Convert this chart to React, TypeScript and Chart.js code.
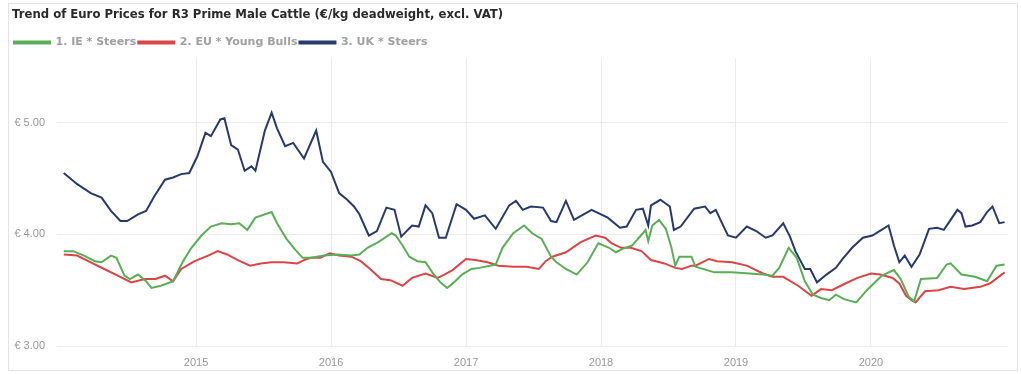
import React, { useEffect, useRef } from "react";
import { Chart, registerables } from "chart.js";

Chart.register(...registerables);

const TITLE = "Trend of Euro Prices for R3 Prime Male Cattle (€/kg deadweight, excl. VAT)";
const SERIES_LABELS = ["1. IE * Steers", "2. EU * Young Bulls", "3. UK * Steers"];
const SERIES_COLORS = ["#5aae57", "#dc4545", "#28396b"];
const X_TICKS = [2015, 2016, 2017, 2018, 2019, 2020];
const Y_TICKS = [3, 4, 5];

const ieDates = [2014.02, 2014.09, 2014.17, 2014.25, 2014.3, 2014.37, 2014.41, 2014.47, 2014.51, 2014.57, 2014.63, 2014.67, 2014.74, 2014.83, 2014.9, 2014.96, 2015.04, 2015.11, 2015.19, 2015.26, 2015.32, 2015.38, 2015.44, 2015.56, 2015.6, 2015.67, 2015.73, 2015.79, 2015.85, 2015.95, 2016.05, 2016.15, 2016.21, 2016.27, 2016.35, 2016.45, 2016.48, 2016.53, 2016.58, 2016.64, 2016.7, 2016.75, 2016.81, 2016.86, 2016.91, 2016.97, 2017.04, 2017.1, 2017.22, 2017.27, 2017.35, 2017.43, 2017.49, 2017.56, 2017.63, 2017.67, 2017.74, 2017.82, 2017.9, 2017.98, 2018.06, 2018.11, 2018.16, 2018.23, 2018.31, 2018.33, 2018.35, 2018.38, 2018.43, 2018.48, 2018.52, 2018.55, 2018.58, 2018.67, 2018.7, 2018.84, 2018.97, 2019.1, 2019.2, 2019.27, 2019.32, 2019.39, 2019.45, 2019.51, 2019.57, 2019.63, 2019.69, 2019.74, 2019.8, 2019.89, 2019.97, 2020.08, 2020.17, 2020.22, 2020.28, 2020.32, 2020.37, 2020.49, 2020.56, 2020.59, 2020.67, 2020.77, 2020.86, 2020.93, 2020.99];
const ieValues = [3.85, 3.85, 3.81, 3.76, 3.75, 3.81, 3.79, 3.63, 3.6, 3.64, 3.58, 3.52, 3.54, 3.58, 3.75, 3.87, 3.99, 4.07, 4.1, 4.09, 4.1, 4.04, 4.15, 4.2, 4.1, 3.96, 3.87, 3.79, 3.79, 3.81, 3.82, 3.81, 3.82, 3.88, 3.93, 4.01, 3.99, 3.9, 3.8, 3.76, 3.75, 3.66, 3.57, 3.52, 3.57, 3.64, 3.69, 3.7, 3.73, 3.88, 4.01, 4.08, 4.01, 3.96, 3.8, 3.75, 3.69, 3.64, 3.75, 3.92, 3.88, 3.84, 3.87, 3.9, 4.01, 4.04, 3.94, 4.08, 4.13, 4.05, 3.89, 3.72, 3.8, 3.8, 3.71, 3.66, 3.66, 3.65, 3.64, 3.63, 3.7, 3.88, 3.79, 3.58, 3.46, 3.43, 3.41, 3.46, 3.42, 3.39, 3.5, 3.63, 3.68, 3.6, 3.44, 3.4, 3.6, 3.61, 3.73, 3.74, 3.64, 3.62, 3.58, 3.72, 3.73];

const euDates = [2014.02, 2014.12, 2014.22, 2014.32, 2014.42, 2014.52, 2014.62, 2014.7, 2014.77, 2014.83, 2014.89, 2014.99, 2015.09, 2015.16, 2015.23, 2015.31, 2015.4, 2015.48, 2015.56, 2015.65, 2015.75, 2015.8, 2015.85, 2015.92, 2015.99, 2016.06, 2016.15, 2016.22, 2016.29, 2016.37, 2016.44, 2016.53, 2016.6, 2016.7, 2016.79, 2016.84, 2016.9, 2017.0, 2017.07, 2017.16, 2017.24, 2017.35, 2017.45, 2017.54, 2017.59, 2017.64, 2017.74, 2017.85, 2017.96, 2018.03, 2018.08, 2018.15, 2018.22, 2018.3, 2018.37, 2018.47, 2018.55, 2018.6, 2018.67, 2018.7, 2018.8, 2018.86, 2018.97, 2019.08, 2019.2, 2019.27, 2019.35, 2019.46, 2019.56, 2019.63, 2019.71, 2019.81, 2019.9, 2020.0, 2020.07, 2020.16, 2020.21, 2020.26, 2020.3, 2020.33, 2020.4, 2020.5, 2020.59, 2020.69, 2020.81, 2020.88, 2020.99];
const euValues = [3.82, 3.81, 3.75, 3.69, 3.63, 3.57, 3.6, 3.6, 3.63, 3.58, 3.69, 3.76, 3.81, 3.85, 3.82, 3.77, 3.72, 3.74, 3.75, 3.75, 3.74, 3.77, 3.79, 3.79, 3.83, 3.81, 3.8, 3.76, 3.69, 3.6, 3.59, 3.54, 3.61, 3.65, 3.61, 3.64, 3.68, 3.78, 3.77, 3.75, 3.72, 3.71, 3.71, 3.69, 3.76, 3.8, 3.84, 3.93, 3.99, 3.97, 3.92, 3.88, 3.88, 3.85, 3.77, 3.74, 3.7, 3.69, 3.72, 3.72, 3.78, 3.76, 3.75, 3.72, 3.65, 3.62, 3.62, 3.54, 3.45, 3.51, 3.5, 3.56, 3.61, 3.65, 3.64, 3.61, 3.56, 3.45, 3.41, 3.39, 3.49, 3.5, 3.53, 3.51, 3.53, 3.56, 3.66];

const ukDates = [2014.02, 2014.12, 2014.22, 2014.3, 2014.37, 2014.44, 2014.49, 2014.57, 2014.63, 2014.69, 2014.77, 2014.83, 2014.89, 2014.95, 2015.01, 2015.07, 2015.11, 2015.18, 2015.21, 2015.26, 2015.31, 2015.36, 2015.41, 2015.44, 2015.51, 2015.56, 2015.6, 2015.66, 2015.72, 2015.8, 2015.89, 2015.94, 2016.0, 2016.06, 2016.12, 2016.17, 2016.21, 2016.28, 2016.34, 2016.41, 2016.47, 2016.52, 2016.6, 2016.65, 2016.7, 2016.75, 2016.8, 2016.85, 2016.93, 2017.0, 2017.06, 2017.14, 2017.22, 2017.32, 2017.37, 2017.42, 2017.48, 2017.57, 2017.63, 2017.67, 2017.74, 2017.8, 2017.93, 2018.05, 2018.14, 2018.19, 2018.26, 2018.31, 2018.35, 2018.37, 2018.44, 2018.51, 2018.54, 2018.59, 2018.69, 2018.77, 2018.81, 2018.85, 2018.94, 2019.0, 2019.08, 2019.15, 2019.22, 2019.27, 2019.35, 2019.4, 2019.44, 2019.51, 2019.55, 2019.6, 2019.67, 2019.74, 2019.79, 2019.86, 2019.94, 2020.01, 2020.09, 2020.13, 2020.17, 2020.21, 2020.25, 2020.3, 2020.36, 2020.43, 2020.49, 2020.54, 2020.59, 2020.64, 2020.67, 2020.7, 2020.75, 2020.81, 2020.86, 2020.9, 2020.95, 2020.99];
const ukValues = [4.55, 4.45, 4.37, 4.33, 4.21, 4.12, 4.12, 4.18, 4.21, 4.34, 4.49, 4.51, 4.54, 4.55, 4.7, 4.91, 4.88, 5.03, 5.04, 4.8, 4.76, 4.57, 4.61, 4.57, 4.93, 5.09, 4.95, 4.79, 4.82, 4.68, 4.93, 4.65, 4.56, 4.37, 4.31, 4.25, 4.18, 3.99, 4.03, 4.24, 4.22, 3.98, 4.08, 4.07, 4.26, 4.19, 3.97, 3.97, 4.27, 4.22, 4.14, 4.17, 4.05, 4.26, 4.3, 4.22, 4.25, 4.24, 4.12, 4.11, 4.3, 4.13, 4.22, 4.15, 4.06, 4.07, 4.22, 4.23, 4.08, 4.26, 4.31, 4.25, 4.04, 4.07, 4.23, 4.25, 4.19, 4.22, 3.99, 3.97, 4.07, 4.03, 3.97, 3.99, 4.1, 3.98, 3.85, 3.69, 3.69, 3.57, 3.64, 3.7, 3.78, 3.88, 3.97, 3.99, 4.05, 4.08, 3.9, 3.75, 3.81, 3.71, 3.82, 4.05, 4.06, 4.04, 4.13, 4.22, 4.19, 4.07, 4.08, 4.11, 4.2, 4.25, 4.1, 4.11];

const toPoints = (xs: number[], ys: number[]) => xs.map((x, i) => ({ x, y: ys[i] }));

export default function App() {
  const ref = useRef<HTMLCanvasElement>(null);

  useEffect(() => {
    if (!ref.current) return;
    const series = [
      toPoints(ieDates, ieValues),
      toPoints(euDates, euValues),
      toPoints(ukDates, ukValues),
    ];
    const chart = new Chart(ref.current, {
      type: "line",
      data: {
        datasets: series.map((data, i) => ({
          label: SERIES_LABELS[i],
          data,
          borderColor: SERIES_COLORS[i],
          backgroundColor: SERIES_COLORS[i],
          borderWidth: 2,
          pointRadius: 0,
          tension: 0,
          fill: false,
        })),
      },
      options: {
        animation: false,
        responsive: false,
        layout: { padding: { left: 3, right: 9, top: 0, bottom: 1 } },
        plugins: {
          title: {
            display: true,
            text: TITLE,
            align: "start",
            color: "#2a2a2a",
            font: { family: "'DejaVu Sans', sans-serif", size: 11.7, weight: "bold" },
            padding: { top: 4, bottom: 13 },
          },
          legend: {
            align: "start",
            labels: {
              boxWidth: 36,
              boxHeight: 2,
              padding: 2,
              color: "#a0a0a0",
              font: { family: "'DejaVu Sans', sans-serif", size: 11, weight: "bold" },
            },
          },
          tooltip: { enabled: false },
        },
        scales: {
          x: {
            type: "linear",
            min: 2013.97,
            max: 2021.015,
            afterBuildTicks: (s: any) => {
              s.ticks = X_TICKS.map((v) => ({ value: v }));
            },
            afterFit: (s: any) => {
              s.height = 23;
            },
            ticks: {
              callback: (v: any) => String(v),
              color: "#999",
              font: { family: "'Liberation Sans', Arial, sans-serif", size: 11 },
              padding: 10,
              maxRotation: 0,
              autoSkip: false,
            },
            grid: { color: "#ececec", drawTicks: false },
            border: { display: false },
          },
          y: {
            min: 3,
            max: 5.58,
            afterBuildTicks: (s: any) => {
              s.ticks = Y_TICKS.map((v) => ({ value: v }));
            },
            afterFit: (s: any) => {
              s.width = 45;
            },
            ticks: {
              callback: (v: any) => "€ " + Number(v).toFixed(2),
              color: "#999",
              font: { family: "'Liberation Sans', Arial, sans-serif", size: 11 },
              padding: 12,
            },
            grid: { color: "#ececec", drawTicks: false },
            border: { display: false },
          },
        },
      },
    });
    return () => chart.destroy();
  }, []);

  return (
    <div
      style={{
        position: "absolute",
        left: 8,
        top: 3,
        width: 1008,
        height: 366,
        border: "1px solid #e3e3e3",
        background: "#fff",
      }}
    >
      <canvas ref={ref} width={1008} height={366} style={{ display: "block" }} />
    </div>
  );
}
